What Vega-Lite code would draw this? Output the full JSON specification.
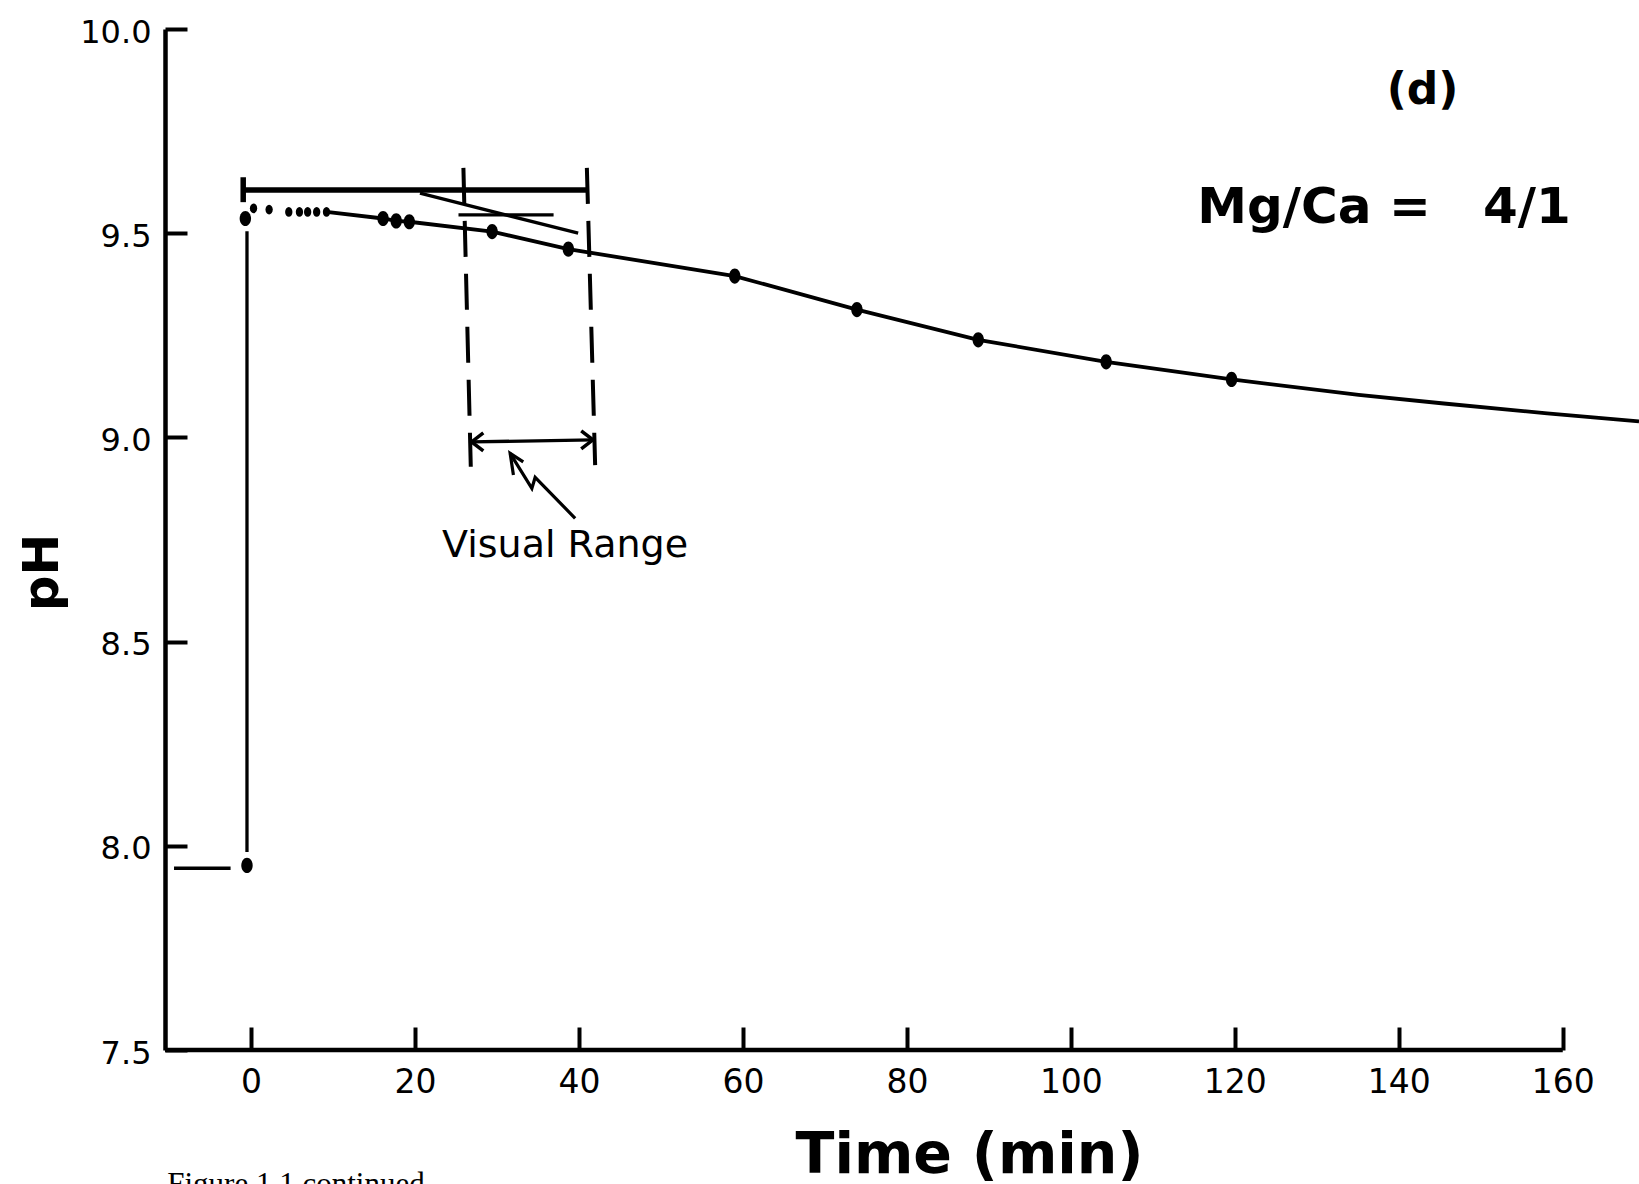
{
  "$schema": "https://vega.github.io/schema/vega-lite/v6.json",
  "autosize": {"type": "none"},
  "padding": {"left": 165, "top": 29, "right": 0, "bottom": 134},
  "width": 1474,
  "height": 1021,
  "background": "white",
  "config": {"view": {"stroke": null}},
  "datasets": {
    "curve": [
      {"t": 9.2, "pH": 9.552}, {"t": 16.1, "pH": 9.536}, {"t": 17.7, "pH": 9.53}, {"t": 19.3, "pH": 9.528},
      {"t": 29.4, "pH": 9.504}, {"t": 38.7, "pH": 9.461}, {"t": 59.0, "pH": 9.395}, {"t": 73.9, "pH": 9.313},
      {"t": 88.7, "pH": 9.239}, {"t": 104.3, "pH": 9.185}, {"t": 119.6, "pH": 9.142}, {"t": 135.1, "pH": 9.104},
      {"t": 145.5, "pH": 9.083}, {"t": 158.1, "pH": 9.059}, {"t": 169.3, "pH": 9.039}
    ],
    "dots": [
      {"t": -0.5, "pH": 7.952}, {"t": -0.7, "pH": 9.536}, {"t": 0.3, "pH": 9.561}, {"t": 2.2, "pH": 9.558},
      {"t": 4.6, "pH": 9.552}, {"t": 5.9, "pH": 9.552}, {"t": 6.9, "pH": 9.552}, {"t": 8.0, "pH": 9.552},
      {"t": 9.2, "pH": 9.552}, {"t": 16.1, "pH": 9.536}, {"t": 17.7, "pH": 9.53}, {"t": 19.3, "pH": 9.528},
      {"t": 29.4, "pH": 9.504}, {"t": 38.7, "pH": 9.461}, {"t": 59.0, "pH": 9.395}, {"t": 73.9, "pH": 9.313},
      {"t": 88.7, "pH": 9.239}, {"t": 104.3, "pH": 9.185}, {"t": 119.6, "pH": 9.142}
    ],
    "thin": [
      {"t": -9.4, "pH": 7.945, "t2": -2.5, "pH2": 7.945},
      {"t": -0.5, "pH": 7.985, "t2": -0.5, "pH2": 9.505},
      {"t": 20.6, "pH": 9.598, "t2": 39.9, "pH2": 9.5},
      {"t": 25.3, "pH": 9.545, "t2": 36.9, "pH2": 9.545},
      {"t": 26.9, "pH": 8.989, "t2": 41.7, "pH2": 8.994}
    ],
    "thick": [
      {"t": -0.96, "pH": 9.606, "t2": 41.0, "pH2": 9.606},
      {"t": -0.96, "pH": 9.576, "t2": -0.96, "pH2": 9.637}
    ],
    "dashed": [
      {"t": 25.9, "pH": 9.66, "t2": 26.8, "pH2": 8.928},
      {"t": 40.96, "pH": 9.66, "t2": 41.97, "pH2": 8.932}
    ],
    "baseline": [
      {"t": -10.5, "pH": 7.5, "t2": 160, "pH2": 7.5}
    ],
    "heads": [
      {"t": 26.9, "pH": 8.989, "dir": "left"},
      {"t": 41.7, "pH": 8.994, "dir": "right"}
    ],
    "squiggle": [
      {"id": "shaft", "o": 1, "t": 31.6, "pH": 8.961},
      {"id": "shaft", "o": 2, "t": 34.25, "pH": 8.875},
      {"id": "shaft", "o": 3, "t": 34.65, "pH": 8.902},
      {"id": "shaft", "o": 4, "t": 39.53, "pH": 8.802},
      {"id": "head", "o": 1, "t": 32.0, "pH": 8.908},
      {"id": "head", "o": 2, "t": 31.6, "pH": 8.961},
      {"id": "head", "o": 3, "t": 33.2, "pH": 8.94}
    ]
  },
  "encoding": {
    "x": {
      "field": "t", "type": "quantitative",
      "scale": {"domain": [-10.5, 169.3], "nice": false, "zero": false},
      "axis": {
        "values": [0, 20, 40, 60, 80, 100, 120, 140, 160],
        "domain": false, "grid": false,
        "tickSize": -23, "tickWidth": 4, "tickColor": "#000",
        "labelFont": "DejaVu Sans", "labelFontSize": 33, "labelColor": "#000",
        "labelBaseline": "middle", "labelPadding": 55, "labelFlush": false, "labelOverlap": false,
        "title": "Time (min)", "titleFont": "DejaVu Sans", "titleFontSize": 57, "titleFontWeight": "bold",
        "titleColor": "#000", "titleX": 804, "titleY": 122, "titleAlign": "center", "titleBaseline": "alphabetic"
      }
    },
    "y": {
      "field": "pH", "type": "quantitative",
      "scale": {"domain": [7.5, 10.0], "nice": false, "zero": false},
      "axis": {
        "values": [7.5, 8.0, 8.5, 9.0, 9.5, 10.0], "format": ".1f",
        "domain": true, "domainWidth": 4.5, "domainColor": "#000", "grid": false,
        "tickSize": -22, "tickWidth": 4, "tickColor": "#000",
        "labelFont": "DejaVu Sans", "labelFontSize": 32, "labelColor": "#000",
        "labelAlign": "right", "labelBaseline": "middle", "labelPadding": 36, "labelOffset": 3,
        "labelFlush": false, "labelOverlap": false,
        "title": "pH", "titleFont": "DejaVu Sans", "titleFontSize": 50, "titleFontWeight": "bold",
        "titleColor": "#000", "titleAngle": -90, "titleX": -108, "titleY": 543,
        "titleAlign": "center", "titleBaseline": "alphabetic"
      }
    }
  },
  "layer": [
    {
      "data": {"name": "baseline"},
      "mark": {"type": "rule", "color": "#000", "strokeWidth": 4.5},
      "encoding": {"x2": {"field": "t2"}, "y2": {"field": "pH2"}}
    },
    {
      "data": {"name": "thin"},
      "mark": {"type": "rule", "color": "#000", "strokeWidth": 3.3},
      "encoding": {"x2": {"field": "t2"}, "y2": {"field": "pH2"}}
    },
    {
      "data": {"name": "thick"},
      "mark": {"type": "rule", "color": "#000", "strokeWidth": 5.5},
      "encoding": {"x2": {"field": "t2"}, "y2": {"field": "pH2"}}
    },
    {
      "data": {"name": "dashed"},
      "mark": {"type": "rule", "color": "#000", "strokeWidth": 4, "strokeDash": [36, 17]},
      "encoding": {"x2": {"field": "t2"}, "y2": {"field": "pH2"}}
    },
    {
      "data": {"name": "curve"},
      "mark": {"type": "line", "color": "#000", "strokeWidth": 3.8}
    },
    {
      "data": {"name": "squiggle"},
      "mark": {"type": "line", "color": "#000", "strokeWidth": 3.2, "strokeJoin": "miter"},
      "encoding": {"detail": {"field": "id"}, "order": {"field": "o"}}
    },
    {
      "data": {"name": "heads"},
      "mark": {"type": "point", "filled": false, "color": "#000", "strokeWidth": 3.5, "size": 548, "opacity": 1},
      "encoding": {
        "shape": {"field": "dir", "type": "nominal", "legend": null,
          "scale": {"domain": ["left", "right"], "range": ["M 1 -0.77 L 0 0 L 1 0.77", "M -1 -0.77 L 0 0 L -1 0.77"]}}
      }
    },
    {
      "data": {"name": "dots"},
      "transform": [{"filter": "datum.t > 0 && datum.t < 10"}],
      "mark": {"type": "point", "filled": true, "color": "#000", "opacity": 1, "size": 95,
        "shape": "M 0 -1 A 0.75 1 0 1 0 0 1 A 0.75 1 0 1 0 0 -1 Z"}
    },
    {
      "data": {"name": "dots"},
      "transform": [{"filter": "datum.t <= 0 || datum.t >= 10"}],
      "mark": {"type": "point", "filled": true, "color": "#000", "opacity": 1, "size": 230,
        "shape": "M 0 -1 A 0.75 1 0 1 0 0 1 A 0.75 1 0 1 0 0 -1 Z"}
    },
    {
      "data": {"values": [{"t": 142.9, "pH": 9.847, "label": "(d)"}]},
      "mark": {"type": "text", "font": "DejaVu Sans", "fontSize": 44, "fontWeight": "bold", "color": "#000", "align": "center", "baseline": "middle"},
      "encoding": {"text": {"field": "label"}}
    },
    {
      "data": {"values": [{"t": 138.2, "pH": 9.524, "label": "Mg/Ca =\u00a0\u00a0\u00a04/1"}]},
      "mark": {"type": "text", "font": "DejaVu Sans", "fontSize": 50, "fontWeight": "bold", "color": "#000", "align": "center", "baseline": "alphabetic"},
      "encoding": {"text": {"field": "label"}}
    },
    {
      "data": {"values": [{"t": 38.3, "pH": 8.708, "label": "Visual Range"}]},
      "mark": {"type": "text", "font": "DejaVu Sans", "fontSize": 38, "color": "#000", "align": "center", "baseline": "alphabetic"},
      "encoding": {"text": {"field": "label"}}
    },
    {
      "data": {"values": [{"t": -10.23, "pH": 7.147, "label": "Figure 1.1 continued"}]},
      "mark": {"type": "text", "font": "Liberation Serif", "fontSize": 31, "color": "#000", "align": "left", "baseline": "alphabetic"},
      "encoding": {"text": {"field": "label"}}
    }
  ]
}
